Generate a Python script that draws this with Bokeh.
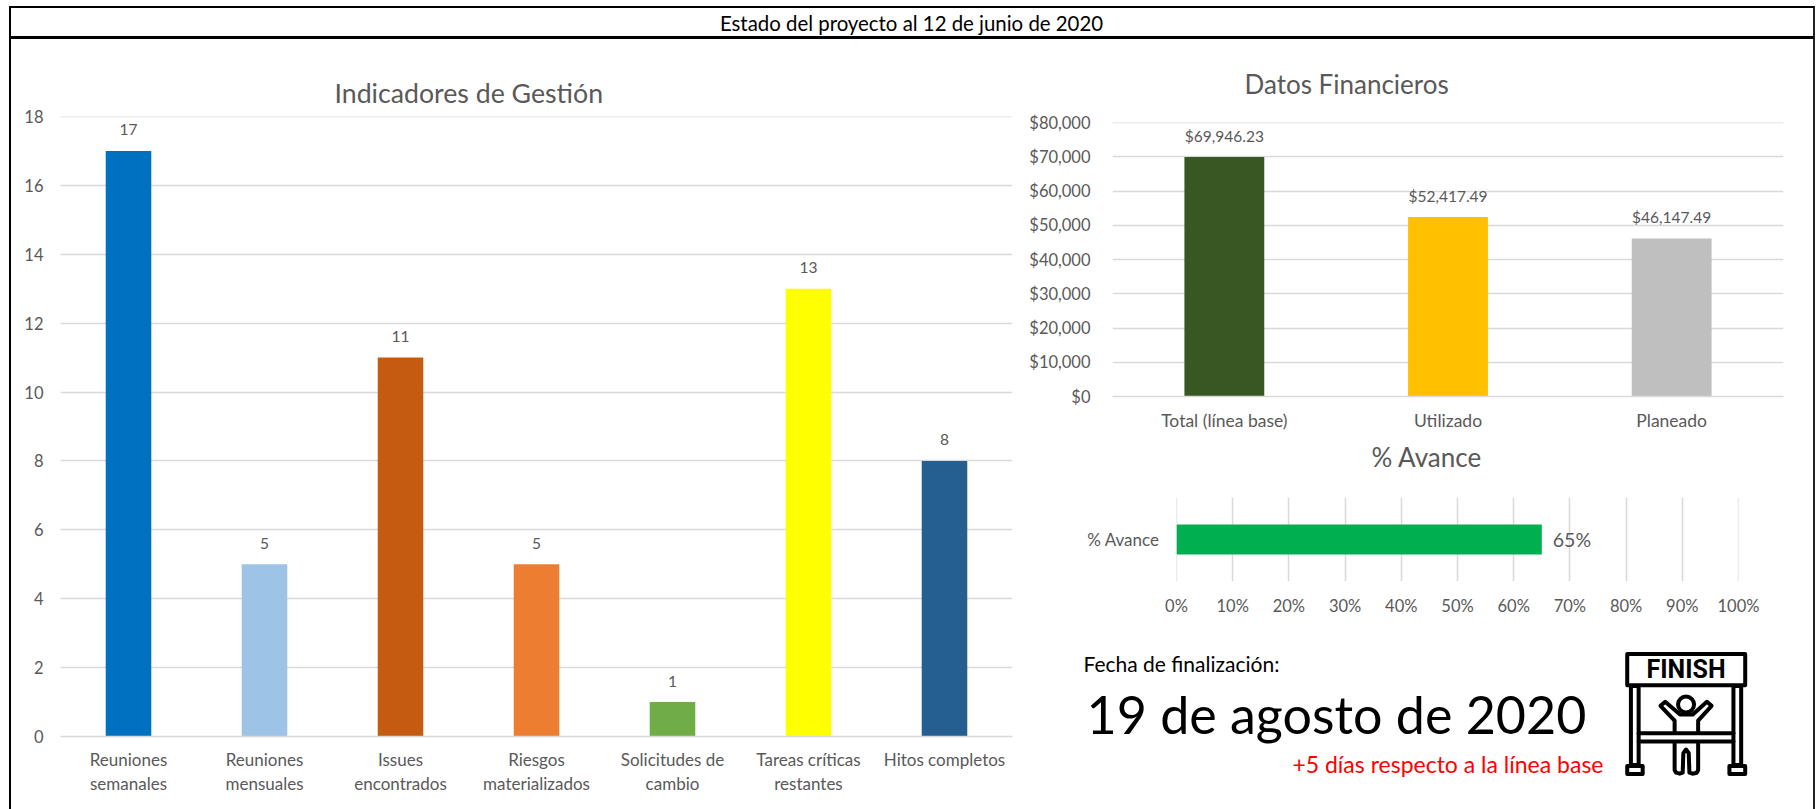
from bokeh.core.properties import value
from bokeh.embed import file_html
from bokeh.layouts import column
from bokeh.models import ColumnDataSource, Div, FactorRange, FixedTicker, NumeralTickFormatter, Range1d, Span
from bokeh.plotting import figure
from bokeh.resources import INLINE

FONT = "Lato"
AXIS_GREY = "#595959"
GRID_GREY = "#D9D9D9"

# Indicadores de Gestión
ind_labels = ["Reuniones\nsemanales", "Reuniones\nmensuales", "Issues\nencontrados", "Riesgos\nmaterializados",
              "Solicitudes de\ncambio", "Tareas críticas\nrestantes", "Hitos completos"]
ind_values = [17, 5, 11, 5, 1, 13, 8]
ind_colors = ["#0070C0", "#9DC3E6", "#C55A11", "#ED7D31", "#70AD47", "#FFFF00", "#255E91"]
ind_ticks = [0, 2, 4, 6, 8, 10, 12, 14, 16, 18]

# Datos Financieros
fin_labels = ["Total (línea base)", "Utilizado", "Planeado"]
fin_values = [69946.23, 52417.49, 46147.49]
fin_colors = ["#385723", "#FFC000", "#BFBFBF"]
fin_ticks = [0, 10000, 20000, 30000, 40000, 50000, 60000, 70000, 80000]

# % Avance
adv_label = ["% Avance"]
adv_value = [0.65]
adv_ticks = [0, 0.1, 0.2, 0.3, 0.4, 0.5, 0.6, 0.7, 0.8, 0.9, 1.0]

header_text = "Estado del proyecto al 12 de junio de 2020"
date_caption = "Fecha de finalización:"
date_text = "19 de agosto de 2020"
date_note = "+5 días respecto a la línea base"

# Sibling figures in a column share their side borders, so every figure uses the same ones
BORDER_LEFT = 160
BORDER_RIGHT = 30
PAGE_WIDTH = 1817
PAGE_HEIGHT = 809


def place(model, left, top):
    model.styles = {"position": "absolute", "left": f"{left}px", "top": f"{top}px", **model.styles}
    return model


def edge_rule(fig, location, dimension):
    """Grids skip a line that falls on the frame edge, so those are added by hand."""
    fig.add_layout(Span(location=location, dimension=dimension, line_color=GRID_GREY,
                        line_width=1.5, level="underlay"))


def panel(top, bottom, frame, x_range, y_range, title, title_offset, title_standoff, title_size="26px"):
    """A transparent chart whose plot frame sits at frame=(x0, y0, x1, y1) on the page."""
    x0, y0, x1, y1 = frame
    fig = figure(frame_width=x1 - x0, frame_height=y1 - y0, x_range=x_range, y_range=y_range,
                 output_backend="svg", toolbar_location=None, title=title,
                 min_border_left=BORDER_LEFT, min_border_top=y0 - top,
                 min_border_right=BORDER_RIGHT, min_border_bottom=bottom - y1)
    fig.background_fill_alpha = 0
    fig.border_fill_alpha = 0
    fig.outline_line_color = None
    fig.title.align = "left"
    fig.title.offset = title_offset
    fig.title.standoff = title_standoff
    fig.title.text_font = FONT
    fig.title.text_font_style = "normal"
    fig.title.text_font_size = title_size
    fig.title.text_color = AXIS_GREY
    for ax in (fig.xaxis[0], fig.yaxis[0]):
        ax.major_tick_line_color = None
        ax.minor_tick_line_color = None
        ax.major_label_text_font = FONT
        ax.major_label_text_color = AXIS_GREY
        ax.major_label_text_font_size = "16.5px"
        ax.axis_line_color = None
    return place(fig, x0 - BORDER_LEFT, top)


# Header, completion date and finish-line icon, in page pixels
base = figure(width=PAGE_WIDTH, height=PAGE_HEIGHT,
              x_range=Range1d(BORDER_LEFT, PAGE_WIDTH - BORDER_RIGHT), y_range=Range1d(PAGE_HEIGHT, 0),
              output_backend="svg", toolbar_location=None, min_border=0,
              min_border_left=BORDER_LEFT, min_border_right=BORDER_RIGHT)
base.axis.visible = False
base.grid.visible = False
base.outline_line_color = None
base.background_fill_alpha = 0
base.border_fill_alpha = 0
place(base, 0, 0)

# Page frame and the rule under the header
page_box = Div(text="", width=1806, height=809, margin=0,
               styles={"box-sizing": "border-box", "border-top": "2.5px solid black",
                       "border-left": "2.5px solid black", "border-right": "2.5px solid #222222"})
place(page_box, 9, 6)
header_rule = Div(text="", width=1804, height=3, margin=0, styles={"background": "black"})
place(header_rule, 10, 36)

base.text([911], [22], text=[header_text], text_align="center", text_baseline="middle",
          text_font=value(FONT), text_font_size="20.4px", text_color="black")
base.text([1083], [663], text=[date_caption], text_baseline="middle",
          text_font=value(FONT), text_font_size="21px", text_color="black")
base.text([1086], [713], text=[date_text], text_baseline="middle",
          text_font=value(FONT), text_font_size="52px", text_color="black")
base.text([1603], [763.5], text=[date_note], text_align="right", text_baseline="middle",
          text_font=value(FONT), text_font_size="23px", text_color="#FF0000")


def ix(z):
    return 1580 + z / 2.975


def iy(z):
    return 630 + z / 2.975


ICON_STROKE = 4


def icon_box(zx0, zy0, zx1, zy1):
    base.quad(left=ix(zx0), right=ix(zx1), top=iy(zy0), bottom=iy(zy1), fill_color="white",
              line_color="black", line_width=ICON_STROKE, line_join="round")


def icon_path(zxs, zys):
    base.line([ix(v) for v in zxs], [iy(v) for v in zys], line_color="black",
              line_width=ICON_STROKE, line_join="round", line_cap="round")


icon_box(150, 165, 173, 400)
icon_box(455, 165, 478, 400)
icon_box(139, 403, 185, 427)
icon_box(443, 403, 490, 427)
icon_box(139, 70, 490, 163)
icon_path([173, 455], [306, 306])
icon_path([173, 455], [330, 330])
icon_path([280, 280, 238, 252, 296, 334, 376, 390, 350, 350],
          [300, 268, 224, 212, 250, 250, 212, 224, 268, 300])
icon_path([280, 280, 284, 295, 304, 306, 314, 322, 324, 333, 346, 350, 350],
          [335, 415, 423, 426, 423, 365, 354, 365, 423, 426, 423, 415, 335])
base.circle(x=[ix(314)], y=[iy(220)], radius=8, fill_color="white", line_color="black",
            line_width=ICON_STROKE)
base.text([ix(314)], [iy(116)], text=["FINISH"], text_align="center", text_baseline="middle",
          text_font=value("Roboto"), text_font_style="bold", text_font_size="25px", text_color="black")

# Indicadores de Gestión column chart
ind = panel(40, 806, (60, 116, 1012, 736), FactorRange(*ind_labels, range_padding=0),
            Range1d(0, ind_ticks[-1]), "Indicadores de Gestión", 274, 15, title_size="26.7px")
ind.x_range.factor_padding = 0
ind.x_range.group_padding = 0
ind.vbar(x="label", top="value", width=0.335, fill_color="color", line_color=None,
         source=ColumnDataSource(dict(label=ind_labels, value=ind_values, color=ind_colors)))
ind.text(x="label", y="value", text="text", y_offset=-21, text_align="center", text_baseline="middle",
         text_font=value(FONT), text_font_size="15.5px", text_color=AXIS_GREY,
         source=ColumnDataSource(dict(label=ind_labels, value=ind_values, text=[str(v) for v in ind_values])))
ind.yaxis[0].ticker = FixedTicker(ticks=ind_ticks)
ind.yaxis[0].major_label_standoff = 11
ind.xaxis[0].major_label_standoff = 6
ind.xaxis[0].major_label_text_font_size = "17px"
ind.xaxis[0].major_label_text_line_height = 1.16
ind.xaxis[0].axis_line_color = GRID_GREY
ind.xaxis[0].axis_line_width = 1.5
ind.xgrid.grid_line_color = None
ind.ygrid.grid_line_color = GRID_GREY
ind.ygrid.grid_line_width = 1.5
edge_rule(ind, ind_ticks[-1], "width")

# Datos Financieros column chart
fin = panel(40, 440, (1112, 122, 1783, 396), FactorRange(*fin_labels, range_padding=0),
            Range1d(0, fin_ticks[-1]), "Datos Financieros", 132, 46)
fin.x_range.factor_padding = 0
fin.vbar(x="label", top="value", width=0.357, fill_color="color", line_color=None,
         source=ColumnDataSource(dict(label=fin_labels, value=fin_values, color=fin_colors)))
fin.text(x="label", y="value", text="text", y_offset=-21, text_align="center", text_baseline="middle",
         text_font=value(FONT), text_font_size="15.5px", text_color=AXIS_GREY,
         source=ColumnDataSource(dict(label=fin_labels, value=fin_values,
                                      text=[f"${v:,.2f}" for v in fin_values])))
fin.yaxis[0].ticker = FixedTicker(ticks=fin_ticks)
fin.yaxis[0].formatter = NumeralTickFormatter(format="$0,0")
fin.yaxis[0].major_label_standoff = 16
fin.xaxis[0].major_label_standoff = 7
fin.xaxis[0].major_label_text_font_size = "17.5px"
fin.xaxis[0].axis_line_color = GRID_GREY
fin.xaxis[0].axis_line_width = 1.5
fin.xgrid.grid_line_color = None
fin.ygrid.grid_line_color = GRID_GREY
fin.ygrid.grid_line_width = 1.5
edge_rule(fin, fin_ticks[-1], "width")

# % Avance horizontal bar
adv = panel(405, 630, (1176, 497, 1738, 581), Range1d(adv_ticks[0], adv_ticks[-1]),
            FactorRange(*adv_label, range_padding=0), "% Avance", 195, 49)
adv.y_range.factor_padding = 0
adv.hbar(y="label", right="value", height=0.357, fill_color="#00B050", line_color=None,
         source=ColumnDataSource(dict(label=adv_label, value=adv_value)))
adv.text(x="value", y="label", text="text", x_offset=11, text_baseline="middle",
         text_font=value(FONT), text_font_size="19.5px", text_color=AXIS_GREY,
         source=ColumnDataSource(dict(label=adv_label, value=adv_value,
                                      text=[f"{v:.0%}" for v in adv_value])))
adv.xaxis[0].ticker = FixedTicker(ticks=adv_ticks)
adv.xaxis[0].formatter = NumeralTickFormatter(format="0%")
adv.xaxis[0].major_label_standoff = 8
adv.yaxis[0].major_label_standoff = 11
adv.yaxis[0].major_label_text_font_size = "17px"
adv.ygrid.grid_line_color = None
adv.xgrid.grid_line_color = GRID_GREY
adv.xgrid.grid_line_width = 1.5
edge_rule(adv, adv_ticks[0], "height")
edge_rule(adv, adv_ticks[-1], "height")

# The figures reach past the page edge because of the shared borders; the column crops them
root = column(base, page_box, header_rule, ind, fin, adv, width=PAGE_WIDTH, height=PAGE_HEIGHT,
              styles={"position": "relative", "overflow": "hidden"})
open("out.html", "w").write(file_html(root, INLINE))
